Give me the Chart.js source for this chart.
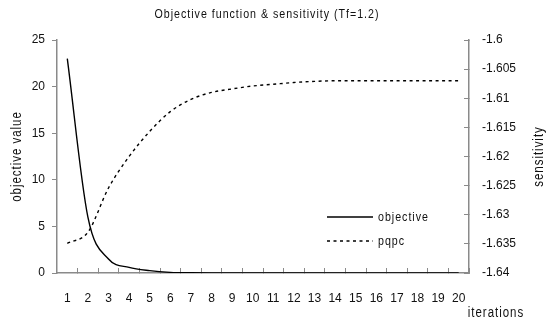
<!DOCTYPE html>
<html>
<head>
<meta charset="utf-8">
<script src="https://cdn.jsdelivr.net/npm/chart.js@4/dist/chart.umd.min.js"></script>
<style>
    html, body { margin: 0; padding: 0; background: #fff; }
    #wrap { width: 547px; height: 322px; }
</style>
</head>
<body>
<div id="wrap"><canvas id="chart" width="547" height="322"></canvas></div>
<script>
const iterations = ['1', '2', '3', '4', '5', '6', '7', '8', '9', '10',
    '11', '12', '13', '14', '15', '16', '17', '18', '19', '20'];
const objective = [23.0, 6.0, 1.5, 0.6, 0.25, 0.07, 0.02, 0.01, 0.01, 0.01,
    0.01, 0.01, 0.01, 0.01, 0.01, 0.01, 0.01, 0.01, 0.01, 0.01];
const pqpc = [-1.6349, -1.6330, -1.6254, -1.6200, -1.6157, -1.6123, -1.6102, -1.6090, -1.6084, -1.6079,
    -1.6076, -1.6073, -1.6071, -1.6070, -1.6070, -1.6070, -1.6070, -1.6070, -1.6070, -1.6070];

const titleText = 'Objective function & sensitivity (Tf=1.2)';
const leftTitle = 'objective value';
const rightTitle = 'sensitivity';
const xTitle = 'iterations';

const FONT = '"Liberation Sans", Arial, sans-serif';
const AXIS = '#8a8a8a';
const DOTS = [3, 3.5];

// narrow, letter-spaced text like the original export
function narrowText(ctx, text, x, y, size, align, rot) {
    ctx.save();
    ctx.translate(x, y);
    if (rot) ctx.rotate(rot);
    ctx.scale(0.82, 1);
    ctx.font = size + 'px ' + FONT;
    ctx.letterSpacing = '1.2px';
    ctx.textAlign = align;
    ctx.textBaseline = 'middle';
    ctx.fillText(text, 0, 0);
    ctx.restore();
}

// titles, axis names and the legend are painted by hand
const annotate = {
    id: 'annotate',
    afterDraw(chart) {
        const ctx = chart.ctx;
        const area = chart.chartArea;
        const mid = (area.top + area.bottom) / 2;
        ctx.save();
        ctx.fillStyle = '#111';
        narrowText(ctx, titleText, (area.left + area.right) / 2 + 4, 14, 13, 'center');
        narrowText(ctx, leftTitle, 17, mid, 14, 'center', -Math.PI / 2);
        narrowText(ctx, rightTitle, 539, mid, 14, 'center', -Math.PI / 2);
        narrowText(ctx, xTitle, 496, 313, 14, 'center');

        // legend
        ctx.strokeStyle = '#000';
        ctx.lineWidth = 1.4;
        chart.data.datasets.forEach((ds, i) => {
            const y = 217 + i * 24;
            ctx.setLineDash(ds.borderDash || []);
            ctx.beginPath();
            ctx.moveTo(327, y);
            ctx.lineTo(373, y);
            ctx.stroke();
            narrowText(ctx, ds.label, 378, y, 13, 'left');
        });
        ctx.restore();
    }
};

const ctx = document.getElementById('chart').getContext('2d');
new Chart(ctx, {
    type: 'line',
    data: {
        labels: iterations,
        datasets: [{
            label: 'objective',
            data: objective,
            yAxisID: 'y',
            borderColor: '#000',
            borderWidth: 1.4,
            pointRadius: 0,
            cubicInterpolationMode: 'monotone',
            fill: false
        }, {
            label: 'pqpc',
            data: pqpc,
            yAxisID: 'y2',
            borderColor: '#000',
            borderWidth: 1.4,
            borderDash: DOTS,
            pointRadius: 0,
            cubicInterpolationMode: 'monotone',
            fill: false
        }]
    },
    options: {
        responsive: false,
        animation: false,
        layout: { padding: { top: 40 } },
        plugins: {
            legend: { display: false },
            tooltip: { enabled: false }
        },
        scales: {
            x: {
                type: 'category',
                offset: true,
                grid: { offset: true, drawOnChartArea: false, tickLength: -5, color: AXIS },
                border: { color: AXIS, width: 1.5 },
                ticks: { color: '#111', font: { family: FONT, size: 12 }, padding: 23, maxRotation: 0, autoSkip: false },
                afterFit: s => { s.height = 49; }
            },
            y: {
                position: 'left',
                min: 0,
                max: 25,
                ticks: { stepSize: 5, color: '#111', font: { family: FONT, size: 12 }, padding: 7 },
                grid: { drawOnChartArea: false, tickLength: 5, color: AXIS },
                border: { color: AXIS, width: 1.5 },
                afterFit: s => { s.width = 57; }
            },
            y2: {
                position: 'right',
                min: -1.64,
                max: -1.6,
                ticks: {
                    stepSize: 0.005,
                    color: '#111',
                    font: { family: FONT, size: 12 },
                    padding: 18,
                    callback: v => String(+v.toFixed(3))
                },
                grid: { drawOnChartArea: false, tickLength: -5, color: AXIS },
                border: { color: AXIS, width: 1.5 },
                afterFit: s => { s.width = 78; }
            }
        }
    },
    plugins: [annotate]
});
</script>
</body>
</html>
